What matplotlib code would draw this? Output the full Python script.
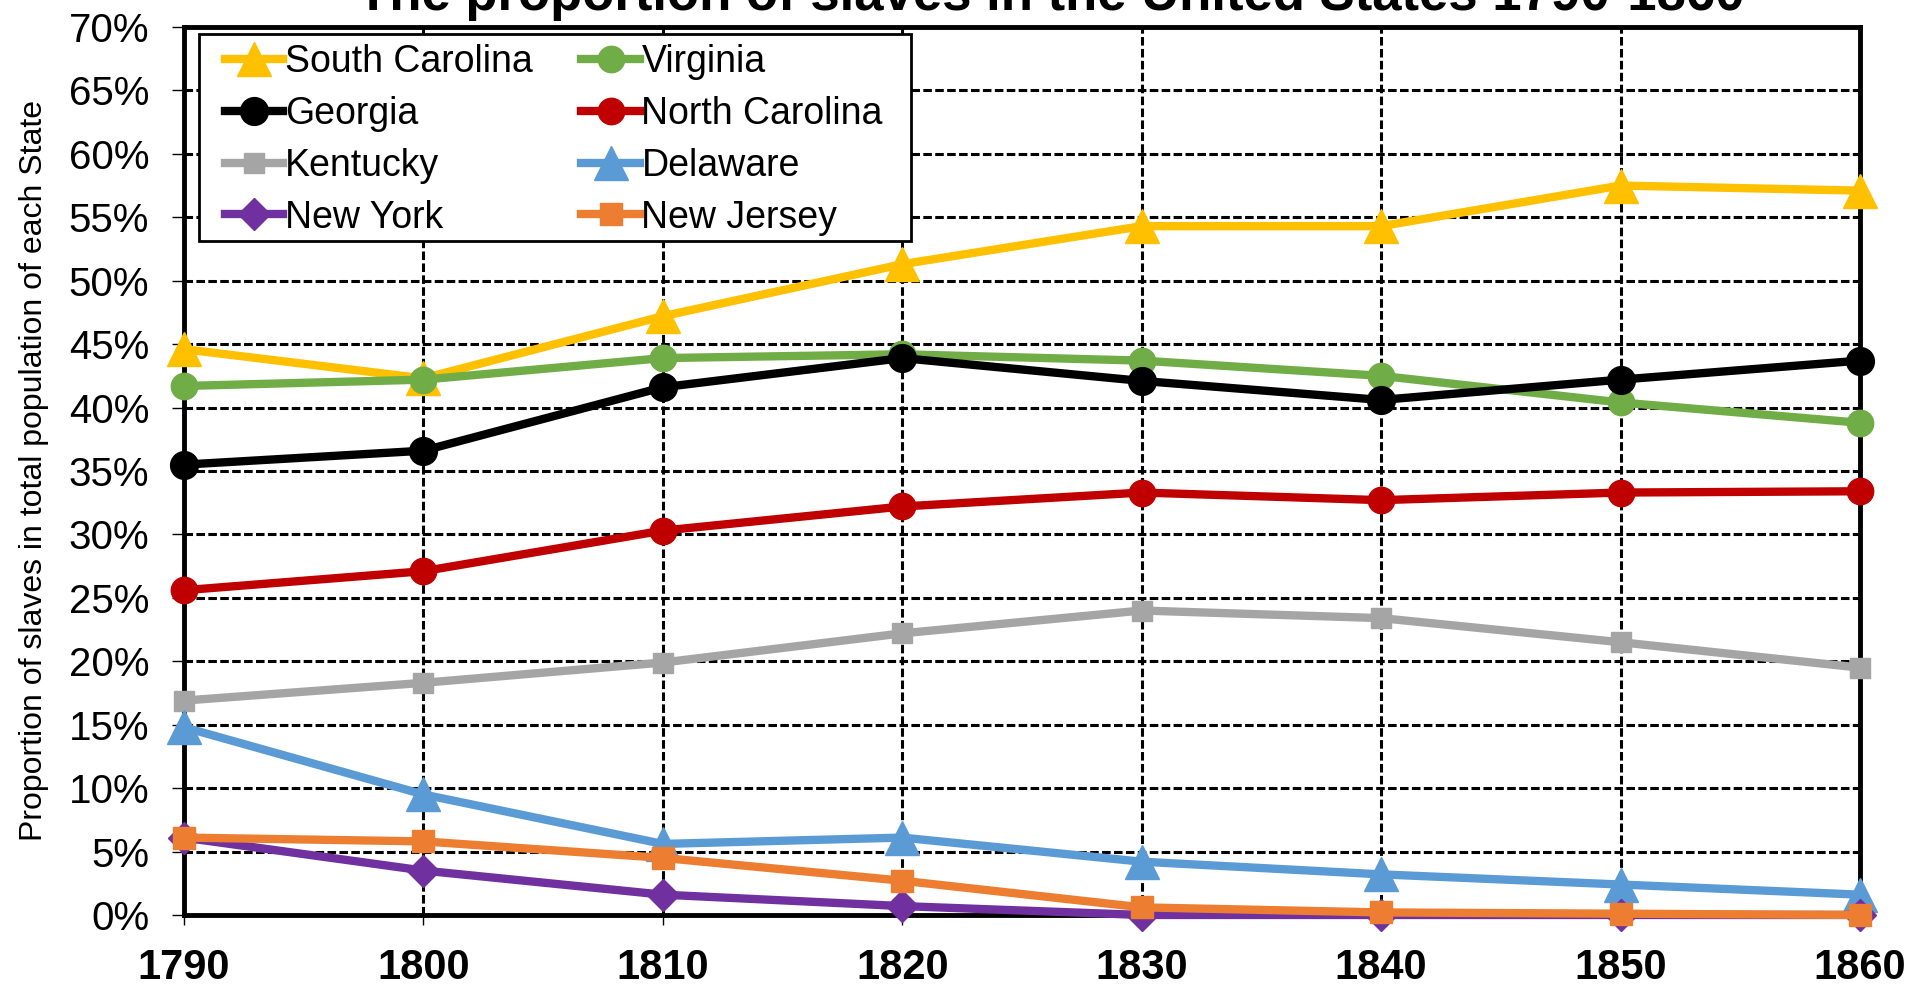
import matplotlib.pyplot as plt
import numpy as np
from matplotlib.patches import Rectangle

plt.rcParams['font.family'] = ['Liberation Sans', 'DejaVu Sans']

years = [1790, 1800, 1810, 1820, 1830, 1840, 1850, 1860]

south_carolina = [44.6, 42.3, 47.2, 51.3, 54.3, 54.3, 57.5, 57.1]
virginia = [41.7, 42.2, 43.9, 44.2, 43.7, 42.5, 40.4, 38.8]
georgia = [35.5, 36.6, 41.6, 43.9, 42.1, 40.6, 42.2, 43.7]
north_carolina = [25.6, 27.1, 30.3, 32.2, 33.3, 32.7, 33.3, 33.4]
kentucky = [16.9, 18.3, 19.9, 22.2, 24.0, 23.4, 21.5, 19.5]
delaware = [14.8, 9.5, 5.6, 6.1, 4.2, 3.2, 2.4, 1.6]
new_york = [6.1, 3.5, 1.6, 0.7, 0.0, 0.0, 0.0, 0.0]
new_jersey = [6.1, 5.8, 4.5, 2.7, 0.6, 0.2, 0.1, 0.0]

fig = plt.figure(figsize=(19.28, 9.85), dpi=100)
ax = fig.add_axes([0.0954, 0.0711, 0.8693, 0.9015])

lw = 6
h = {}
h['South Carolina'], = ax.plot(years, south_carolina, color='#FFC000', lw=lw, marker='^', ms=24, clip_on=False, zorder=5)
h['Virginia'], = ax.plot(years, virginia, color='#70AD47', lw=lw, marker='o', ms=19, clip_on=False, zorder=5)
h['Georgia'], = ax.plot(years, georgia, color='black', lw=lw, marker='o', ms=20, clip_on=False, zorder=5)
h['North Carolina'], = ax.plot(years, north_carolina, color='#C00000', lw=lw, marker='o', ms=19, clip_on=False, zorder=5)
h['Kentucky'], = ax.plot(years, kentucky, color='#A5A5A5', lw=lw, marker='s', ms=15, clip_on=False, zorder=5)
h['Delaware'], = ax.plot(years, delaware, color='#5B9BD5', lw=lw, marker='^', ms=24, clip_on=False, zorder=5)
h['New York'], = ax.plot(years, new_york, color='#7030A0', lw=lw, marker='D', ms=16, clip_on=False, zorder=5)
h['New Jersey'], = ax.plot(years, new_jersey, color='#ED7D31', lw=lw, marker='s', ms=16, clip_on=False, zorder=6)

ax.set_xlim(1790, 1860)
ax.set_ylim(0, 70)
ax.set_xticks(years)
ax.set_yticks(np.arange(0, 71, 5))
ax.set_yticklabels([f'{v}%' for v in range(0, 71, 5)])
ax.tick_params(axis='x', labelsize=30, length=7, width=1, pad=17)
ax.tick_params(axis='y', labelsize=29, length=9, width=1, pad=16)
for lab in ax.get_xticklabels():
    lab.set_fontweight('bold')

ax.grid(True, color='black', linestyle=(0, (2.8, 1.1)), linewidth=2.2)
ax.set_axisbelow(True)
for s in ax.spines.values():
    s.set_linewidth(3.5)
    s.set_color('black')

ax.set_ylabel('Proportion of slaves in total population of each State', fontsize=23, labelpad=14)
fig.text(0.545, 0.99, 'The proportion of slaves in the United States 1790-1860',
         ha='center', va='baseline', fontsize=38, fontweight='bold')

order = ['South Carolina', 'Georgia', 'Kentucky', 'New York',
         'Virginia', 'North Carolina', 'Delaware', 'New Jersey']
leg = ax.legend([h[k] for k in order], order, ncol=2, loc='upper left',
                bbox_to_anchor=(0.0245, 0.9805), fontsize=27, frameon=False,
                handlelength=1.55, handletextpad=0.05, columnspacing=1.3,
                labelspacing=0.42, borderpad=0, borderaxespad=0)
leg.set_zorder(10)
ax.add_patch(Rectangle((0.00895, 0.759), 0.4249, 0.2331, transform=ax.transAxes,
                       facecolor='white', edgecolor='black', lw=2, zorder=9,
                       clip_on=False))

fig.savefig('out.png', dpi=100)
